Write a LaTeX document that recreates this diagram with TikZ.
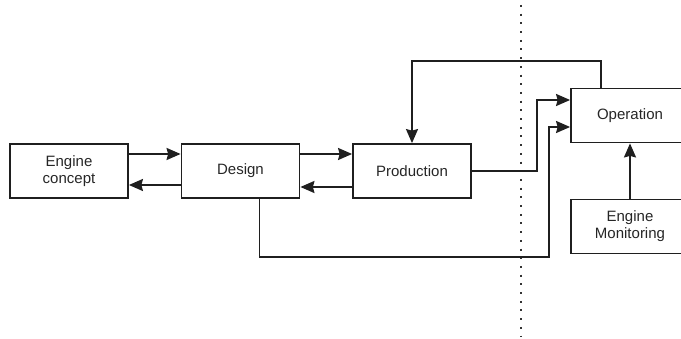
\documentclass[tikz,border=0pt]{standalone}
\usepackage{fontspec}
\setmainfont{Liberation Sans}
\usetikzlibrary{arrows.meta}
\begin{document}
\begin{tikzpicture}[x=1pt,y=-1pt,
  box/.style={draw=black!88, line width=1.8pt, minimum width=118pt, minimum height=54pt,
    inner sep=0pt, align=center, font=\fontsize{15}{17}\selectfont, text=black!85},
  conn/.style={draw=black!88, line width=1.8pt, -{Stealth[length=14pt,width=12pt,inset=1.5pt]}},
  plain/.style={draw=black!88, line width=1.8pt},
  divider/.style={draw=black!80, line width=2pt, line cap=butt, dash pattern=on 2pt off 6.7pt}]
\useasboundingbox (0,0) rectangle (681,339);
\clip (0,0) rectangle (681,339);
\node[box] (ec) at (69,171) {Engine\\concept};
\node[box] (des) at (240.5,171) {Design};
\node[box] (prod) at (412,171) {Production};
\node[box] (op) at (630,115.5) {Operation};
\node[box] (em) at (630,226.5) {Engine\\Monitoring};
\coordinate (dtop) at (520.5,5);
\coordinate (dbot) at (520.5,337);
\coordinate (c1) at (549,257);
\draw[divider] (dtop) -- (dbot);
\draw[conn] ([yshift=17pt]ec.east) -- ([yshift=17pt]des.west);
\draw[conn] ([yshift=-14pt]des.west) -- ([yshift=-14pt]ec.east);
\draw[conn] ([yshift=17pt]des.east) -- ([yshift=17pt]prod.west);
\draw[conn] ([yshift=-16pt]prod.west) -- ([yshift=-16pt]des.east);
\draw[conn] ([xshift=-29pt]op.north) |- ([yshift=82pt]prod.north) -- (prod.north);
\draw[conn] (prod.east) -- ++(65,0) |- ([yshift=15.5pt]op.west);
\draw[conn] ([xshift=19pt]des.south) |- (c1) |- ([yshift=-11.5pt]op.west);
\draw[conn] (em.north) -- (op.south);
\end{tikzpicture}
\end{document}
